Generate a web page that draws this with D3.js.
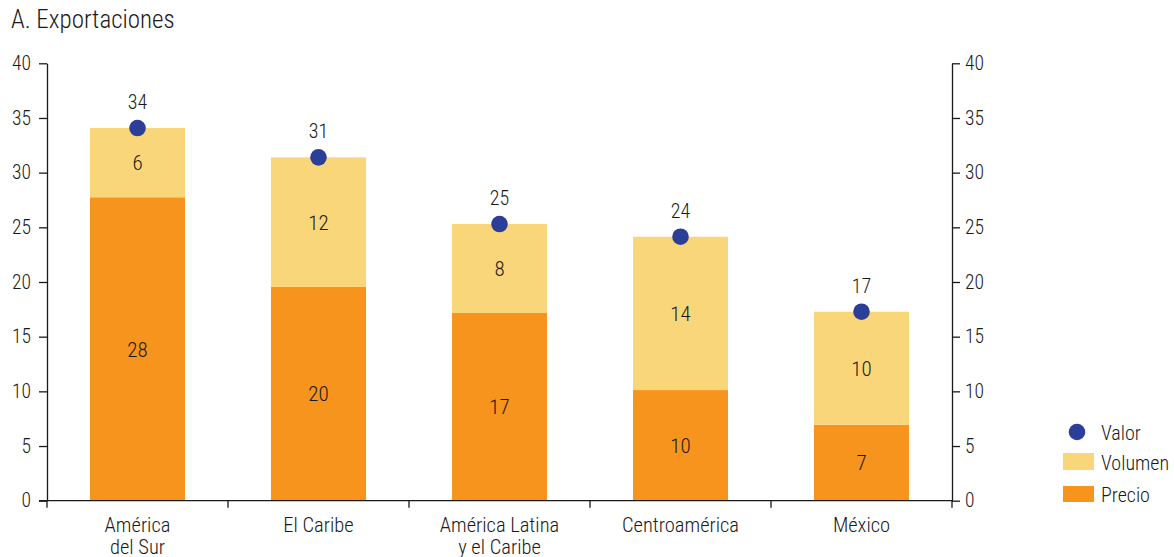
<!DOCTYPE html>
<html>
<head>
<meta charset="utf-8">
<script src="https://cdn.jsdelivr.net/npm/d3@7"></script>
<style>
  html, body { margin: 0; padding: 0; background: #fff; }
  svg text { font-family: "Roboto Condensed", "Arial Narrow", "Liberation Sans Narrow", Roboto, sans-serif; font-stretch: condensed; font-weight: 350; fill: #1a1a1a; }
</style>
</head>
<body>
<svg id="chart" width="1174" height="557"></svg>
<script>
// Variación de las exportaciones por subregión: contribución de precio y volumen
const categories = [["América", "del Sur"], ["El Caribe"], ["América Latina", "y el Caribe"], ["Centroamérica"], ["México"]];
const precio  = [27.75, 19.55, 17.17, 10.12, 6.95];
const volumen = [6.33, 11.85, 8.13, 14.02, 10.33];
const valor   = [34.08, 31.4, 25.3, 24.14, 17.28];
const yTicks  = [0, 5, 10, 15, 20, 25, 30, 35, 40];
const legendItems = ["Valor", "Volumen", "Precio"];

const colors = { precio: "#F7941E", volumen: "#F8D679", valor: "#2B3F99" };

const svg = d3.select("#chart");
const margin = { left: 47, right: 222, top: 63, bottom: 56 };
const W = 1174, H = 557;

const x = d3.scaleBand()
  .domain(d3.range(categories.length))
  .range([margin.left, W - margin.right])
  .paddingInner(0.475)
  .paddingOuter(0.2375);

const y = d3.scaleLinear().domain([0, 40]).range([H - margin.bottom - 0.3, margin.top + 0.3]);

const fmt = d3.format(".0f");

// Título
svg.append("text")
  .attr("x", 11).attr("y", 27.5)
  .style("font-size", "25px")
  .text("A. Exportaciones");

// Barras apiladas
const g = svg.append("g");
categories.forEach((c, i) => {
  const x0 = x(i), bw = x.bandwidth();
  g.append("rect")
    .attr("x", x0).attr("width", bw)
    .attr("y", y(precio[i])).attr("height", y(0) - y(precio[i]))
    .attr("fill", colors.precio);
  g.append("rect")
    .attr("x", x0).attr("width", bw)
    .attr("y", y(precio[i] + volumen[i])).attr("height", y(precio[i]) - y(precio[i] + volumen[i]))
    .attr("fill", colors.volumen);
  g.append("text")
    .attr("x", x0 + bw / 2).attr("y", y(precio[i] / 2))
    .attr("text-anchor", "middle").attr("dy", "0.36em")
    .style("font-size", "21px")
    .text(fmt(precio[i]));
  g.append("text")
    .attr("x", x0 + bw / 2).attr("y", y(precio[i] + volumen[i] / 2))
    .attr("text-anchor", "middle").attr("dy", "0.36em")
    .style("font-size", "21px")
    .text(fmt(volumen[i]));
  g.append("circle")
    .attr("cx", x0 + bw / 2).attr("cy", y(valor[i]))
    .attr("r", 8.3)
    .attr("fill", colors.valor);
  g.append("text")
    .attr("x", x0 + bw / 2).attr("y", y(valor[i]) - 19)
    .attr("text-anchor", "middle")
    .style("font-size", "20px")
    .text(fmt(valor[i]));
});

const axisStyle = sel => {
  sel.select(".domain").attr("stroke", "#1a1a1a").attr("stroke-width", 1.3);
  sel.selectAll(".tick line").attr("stroke", "#1a1a1a").attr("stroke-width", 1.3);
  sel.selectAll(".tick text").style("font-size", "19.5px").attr("fill", "#1a1a1a");
};

svg.append("g")
  .attr("transform", `translate(${margin.left},0)`)
  .call(d3.axisLeft(y).tickValues(yTicks).tickSize(8).tickSizeOuter(0).tickPadding(8))
  .call(axisStyle);

svg.append("g")
  .attr("transform", `translate(${W - margin.right},0)`)
  .call(d3.axisRight(y).tickValues(yTicks).tickSize(8).tickSizeOuter(0).tickPadding(5))
  .call(axisStyle);

const boundaries = d3.range(categories.length + 1).map(k => margin.left + k * (W - margin.left - margin.right) / categories.length);
const xb = svg.append("g");
xb.append("line")
  .attr("x1", margin.left - 8).attr("x2", W - margin.right)
  .attr("y1", y(0)).attr("y2", y(0))
  .attr("stroke", "#1a1a1a").attr("stroke-width", 1.3);
xb.selectAll("line.tk").data(boundaries).join("line")
  .attr("class", "tk")
  .attr("x1", d => d).attr("x2", d => d)
  .attr("y1", y(0)).attr("y2", y(0) + 7)
  .attr("stroke", "#1a1a1a").attr("stroke-width", 1.3);

categories.forEach((lines, i) => {
  const t = xb.append("text")
    .attr("x", x(i) + x.bandwidth() / 2)
    .attr("y", 531.5)
    .attr("text-anchor", "middle")
    .style("font-size", "20.5px");
  lines.forEach((ln, k) => {
    t.append("tspan")
      .attr("x", x(i) + x.bandwidth() / 2)
      .attr("dy", k === 0 ? 0 : 22)
      .text(ln);
  });
});

const lg = svg.append("g");
lg.append("circle").attr("cx", 1077).attr("cy", 432).attr("r", 8.3).attr("fill", colors.valor);
lg.append("rect").attr("x", 1063).attr("y", 453).attr("width", 31).attr("height", 17).attr("fill", colors.volumen);
lg.append("rect").attr("x", 1063).attr("y", 486).attr("width", 31).attr("height", 16).attr("fill", colors.precio);
legendItems.forEach((name, k) => {
  lg.append("text")
    .attr("x", 1101).attr("y", [433, 463, 495][k])
    .attr("dy", "0.36em")
    .style("font-size", "20px")
    .text(name);
});
</script>
</body>
</html>
